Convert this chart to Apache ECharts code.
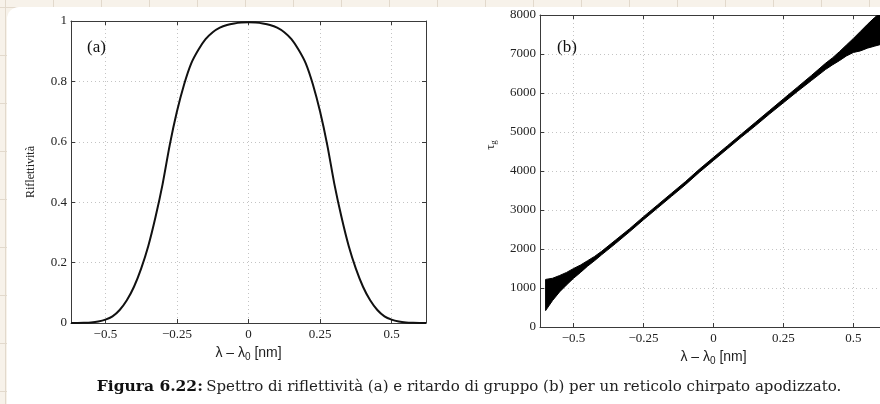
<!DOCTYPE html>
<html>
<head>
<meta charset="utf-8">
<script src="https://cdn.jsdelivr.net/npm/echarts@6/dist/echarts.min.js"></script>
<style>
  html,body{margin:0;padding:0;}
  body{
    width:880px;height:404px;overflow:hidden;position:relative;
    background-color:#f7f2ea;
    background-image:linear-gradient(to right,#e2d9cc 1px,transparent 1px),
                     linear-gradient(to bottom,#e2d9cc 1px,transparent 1px);
    background-size:48px 48px;
    background-position:5px 7px;
  }
  #panel{position:absolute;left:7px;top:7px;width:900px;height:420px;background:#fff;border-radius:12px;}
  #main{position:absolute;left:0;top:0;width:880px;height:404px;}
</style>
</head>
<body>
<div id="panel"></div>
<div id="main"></div>
<script>
var main=document.getElementById("main");
var myChart=echarts.init(main,null,{renderer:'canvas'});

// ---- dati (a): riflettività
var xR=[-0.62,-0.6,-0.575,-0.55,-0.525,-0.5,-0.475,-0.45,-0.425,-0.4,-0.375,-0.35,-0.325,-0.3,-0.275,-0.25,-0.225,-0.2,-0.175,-0.15,-0.125,-0.1,-0.075,-0.05,-0.025,
        0,0.025,0.05,0.075,0.1,0.125,0.15,0.175,0.2,0.225,0.25,0.275,0.3,0.325,0.35,0.375,0.4,0.425,0.45,0.475,0.5,0.525,0.55,0.575,0.6,0.62];
var riflettivita=[0.0001,0.0003,0.0008,0.002,0.005,0.011,0.022,0.043,0.075,0.12,0.18,0.255,0.35,0.46,0.59,0.70,0.79,0.86,0.905,0.94,0.963,0.978,0.987,0.992,0.995,
        0.996,0.995,0.992,0.987,0.978,0.963,0.94,0.905,0.86,0.79,0.70,0.59,0.46,0.35,0.255,0.18,0.12,0.075,0.043,0.022,0.011,0.005,0.002,0.0008,0.0003,0.0001];

// ---- dati (b): ritardo di gruppo (inviluppo inferiore / superiore)
var xT=[-0.6,-0.575,-0.55,-0.525,-0.5,-0.475,-0.45,-0.425,-0.4,-0.35,-0.3,-0.25,-0.2,-0.15,-0.1,-0.05,0,0.05,0.1,0.15,0.2,0.25,0.3,0.35,0.4,0.425,0.45,0.475,0.5,0.525,0.55,0.575,0.6];
var tauLow=[420,680,900,1080,1250,1400,1560,1700,1850,2140,2440,2750,3050,3350,3650,3970,4270,4570,4870,5160,5460,5750,6040,6320,6600,6720,6830,6950,7040,7080,7150,7200,7250];
var tauHigh=[1220,1250,1320,1400,1500,1590,1700,1810,1940,2230,2520,2830,3130,3430,3730,4050,4350,4650,4950,5250,5550,5850,6150,6450,6760,6900,7060,7230,7400,7580,7760,7930,8080];

// tick
var xTicks=[-0.5,-0.25,0,0.25,0.5];
var xTickLabels=['\u22120.5','\u22120.25','0','0.25','0.5'];

var serif='"Liberation Serif","Times New Roman",serif';
var sans='"Liberation Sans",Arial,sans-serif';
var capFont='"DejaVu Serif",serif';

function lab(v){
  var i=xTicks.indexOf(v);
  return i>=0?xTickLabels[i]:'';
}

var gridLine={show:true,lineStyle:{color:'#c4c4c4',type:[1,3],width:1}};
var axLine={show:true,onZero:false,lineStyle:{color:'#3a3a3a',width:1}};

function xAx(gi,pos,withLabels){
  return {
    type:'value',gridIndex:gi,position:pos,min:-0.62,max:0.62,
    axisLine:axLine,
    axisTick:{show:true,inside:true,length:4,customValues:xTicks,lineStyle:{color:'#3a3a3a'}},
    axisLabel:{show:withLabels,customValues:xTicks,formatter:lab,color:'#222',fontFamily:serif,fontSize:13,margin:5},
    splitLine:withLabels?gridLine:{show:false},
    name:withLabels?'{t|\u03bb \u2013 \u03bb}{s|0}{t| [nm]}':'',
    nameLocation:'middle',nameGap:14,
    nameTextStyle:{rich:{t:{fontFamily:sans,fontSize:14,color:'#222'},s:{fontFamily:sans,fontSize:10,color:'#222',padding:[9,0,0,0]}}}
  };
}
function yAx(gi,pos,withLabels,mx,step){
  return {
    type:'value',gridIndex:gi,position:pos,min:0,max:mx,interval:step,
    axisLine:axLine,
    axisTick:{show:true,inside:true,length:4,lineStyle:{color:'#3a3a3a'}},
    axisLabel:{show:withLabels,color:'#222',fontFamily:serif,fontSize:13,margin:4,
      formatter:function(v){return String(v);}},
    splitLine:withLabels?gridLine:{show:false}
  };
}

var ya=yAx(0,'left',true,1,0.2);
ya.name='Riflettività';
ya.nameLocation='middle';
ya.nameGap=34;
ya.nameTextStyle={fontFamily:serif,fontSize:12,color:'#222'};

var dataA=xR.map(function(x,i){return [x,riflettivita[i]];});
var dataB=xT.map(function(x,i){return [x,tauLow[i],tauHigh[i]];});

// banda del ritardo di gruppo: poligono tra inviluppo inferiore e superiore
function renderBand(params,api){
  if(params.dataIndex!==0) return null;
  var pts=[],i;
  for(i=0;i<xT.length;i++) pts.push(api.coord([xT[i],tauLow[i]]));
  for(i=xT.length-1;i>=0;i--) pts.push(api.coord([xT[i],tauHigh[i]]));
  var cs=params.coordSys;
  return {
    type:'polygon',
    shape:{points:pts},
    style:{fill:'#000',stroke:'#000',lineWidth:1},
    clipPath:{type:'rect',shape:{x:cs.x,y:cs.y,width:cs.width,height:cs.height}}
  };
}

var option={
  animation:false,
  backgroundColor:'transparent',
  grid:[
    {left:71,top:21,width:355,height:302,outerBoundsMode:'none',containLabel:false},
    {left:540,top:15,width:347,height:312,outerBoundsMode:'none',containLabel:false}
  ],
  xAxis:[xAx(0,'bottom',true),xAx(0,'top',false),xAx(1,'bottom',true),xAx(1,'top',false)],
  yAxis:[ya,yAx(0,'right',false,1,0.2),yAx(1,'left',true,8000,1000),yAx(1,'right',false,8000,1000)],
  series:[
    {type:'line',xAxisIndex:0,yAxisIndex:0,data:dataA,smooth:0.3,showSymbol:false,
     lineStyle:{color:'#111',width:2}},
    {type:'custom',xAxisIndex:2,yAxisIndex:2,data:dataB,renderItem:renderBand,
     encode:{x:0,y:[1,2]}}
  ],
  graphic:[
    {type:'text',left:87,top:39,style:{text:'(a)',font:'17px '+serif,fill:'#111'}},
    {type:'text',left:557,top:39,style:{text:'(b)',font:'17px '+serif,fill:'#111'}},
    {type:'text',x:491,y:145,rotation:Math.PI/2,
     style:{text:'{t|\u03c4}{s|g}',align:'center',verticalAlign:'middle',
       rich:{t:{fontFamily:serif,fontSize:13,fill:'#222'},s:{fontFamily:serif,fontSize:9,fill:'#222',padding:[6,0,0,0]}}}},
    {type:'text',x:469,y:387,
     style:{text:'{b|Figura 6.22:} {n|Spettro di riflettività (a) e ritardo di gruppo (b) per un reticolo chirpato apodizzato.}',
       align:'center',verticalAlign:'middle',
       rich:{b:{fontFamily:capFont,fontWeight:'bold',fontSize:15.5,fill:'#111'},
             n:{fontFamily:capFont,fontSize:15,fill:'#222'}}}}
  ]
};

myChart.setOption(option);
</script>
</body>
</html>
